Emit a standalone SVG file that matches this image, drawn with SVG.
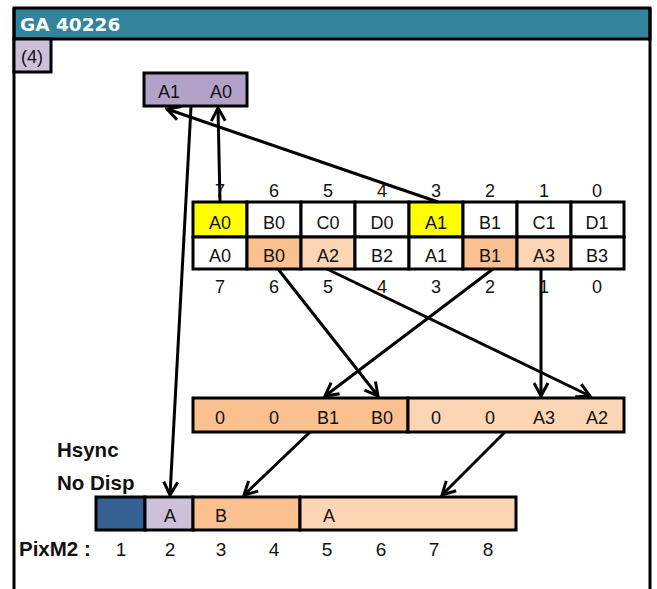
<svg xmlns="http://www.w3.org/2000/svg" width="657" height="589" viewBox="0 0 657 589">
<style>
.t{font-family:"Liberation Sans",Arial,sans-serif;font-size:18px;fill:#111;text-anchor:middle}
.b{font-family:"Liberation Sans",Arial,sans-serif;font-size:20.5px;font-weight:bold;fill:#111}
.cell{stroke:#000;stroke-width:3}
.c{stroke:#000;stroke-width:3;fill:none;marker-end:url(#ah)}
</style>
<defs>
<marker id="ah" markerUnits="userSpaceOnUse" viewBox="0 0 17 17" refX="14.5" refY="8.5" markerWidth="17" markerHeight="17" orient="auto">
<path d="M1.5,1.5 L14.5,8.5 L1.5,15.5" fill="none" stroke="#000" stroke-width="3"/>
</marker>
</defs>
<rect width="657" height="589" fill="#fff"/>
<g id="frame">
<rect x="14" y="8" width="636" height="31" fill="#31849b" stroke="#000" stroke-width="3"/>
<line x1="14" y1="8" x2="14" y2="589" stroke="#000" stroke-width="3"/>
<line x1="650" y1="8" x2="650" y2="589" stroke="#000" stroke-width="3"/>
<text x="20" y="31" style="font-family:'DejaVu Sans',Verdana,sans-serif;font-size:18.5px;font-weight:bold;fill:#fff">GA 40226</text>
</g>
<g id="label4">
<rect x="14" y="39" width="37" height="33" fill="#ccc0da" class="cell"/>
<text x="32" y="63" class="t">(4)</text>
</g>
<g id="regA">
<rect x="144" y="73" width="103" height="33" fill="#b3a2c7" class="cell"/>
<text x="169" y="98" class="t">A1</text>
<text x="221" y="98" class="t">A0</text>
</g>
<g id="topTable">
<g class="t">
<text x="220" y="197">7</text><text x="274" y="197">6</text><text x="328" y="197">5</text><text x="382" y="197">4</text>
<text x="436" y="197">3</text><text x="490" y="197">2</text><text x="544" y="197">1</text><text x="597" y="197">0</text>
</g>
<rect x="193" y="202" width="54" height="35" fill="#ffff00" class="cell"/>
<rect x="247" y="202" width="54" height="35" fill="#fff" class="cell"/>
<rect x="301" y="202" width="54" height="35" fill="#fff" class="cell"/>
<rect x="355" y="202" width="54" height="35" fill="#fff" class="cell"/>
<rect x="409" y="202" width="54" height="35" fill="#ffff00" class="cell"/>
<rect x="463" y="202" width="54" height="35" fill="#fff" class="cell"/>
<rect x="517" y="202" width="54" height="35" fill="#fff" class="cell"/>
<rect x="571" y="202" width="53" height="35" fill="#fff" class="cell"/>
<rect x="193" y="237" width="54" height="32" fill="#fff" class="cell"/>
<rect x="247" y="237" width="54" height="32" fill="#fac090" class="cell"/>
<rect x="301" y="237" width="54" height="32" fill="#fcd5b4" class="cell"/>
<rect x="355" y="237" width="54" height="32" fill="#fff" class="cell"/>
<rect x="409" y="237" width="54" height="32" fill="#fff" class="cell"/>
<rect x="463" y="237" width="54" height="32" fill="#fac090" class="cell"/>
<rect x="517" y="237" width="54" height="32" fill="#fcd5b4" class="cell"/>
<rect x="571" y="237" width="53" height="32" fill="#fff" class="cell"/>
<g class="t">
<text x="220" y="229">A0</text><text x="274" y="229">B0</text><text x="328" y="229">C0</text><text x="382" y="229">D0</text>
<text x="436" y="229">A1</text><text x="490" y="229">B1</text><text x="544" y="229">C1</text><text x="597" y="229">D1</text>
<text x="220" y="262">A0</text><text x="274" y="262">B0</text><text x="328" y="262">A2</text><text x="382" y="262">B2</text>
<text x="436" y="262">A1</text><text x="490" y="262">B1</text><text x="544" y="262">A3</text><text x="597" y="262">B3</text>
<text x="220" y="293">7</text><text x="274" y="293">6</text><text x="328" y="293">5</text><text x="382" y="293">4</text>
<text x="436" y="293">3</text><text x="490" y="293">2</text><text x="544" y="293">1</text><text x="597" y="293">0</text>
</g>
</g>
<g id="midTable">
<rect x="193" y="398" width="215" height="34" fill="#fac090" class="cell"/>
<rect x="408" y="398" width="216" height="34" fill="#fcd5b4" class="cell"/>
<g class="t">
<text x="220" y="424">0</text><text x="274" y="424">0</text><text x="328" y="424">B1</text><text x="382" y="424">B0</text>
<text x="436" y="424">0</text><text x="490" y="424">0</text><text x="544" y="424">A3</text><text x="597" y="424">A2</text>
</g>
</g>
<g id="labels">
<text x="57" y="457" class="b">Hsync</text>
<text x="57" y="490" class="b">No Disp</text>
<text x="19" y="556" class="b">PixM2 :</text>
<g class="t" style="font-size:19px">
<text x="121" y="556">1</text><text x="170" y="556">2</text><text x="221" y="556">3</text><text x="274" y="556">4</text>
<text x="327" y="556">5</text><text x="381" y="556">6</text><text x="434" y="556">7</text><text x="488" y="556">8</text>
</g>
</g>
<g id="pixBar">
<rect x="96" y="497" width="49" height="33" fill="#376092" class="cell"/>
<rect x="145" y="497" width="48" height="33" fill="#ccc0da" class="cell"/>
<rect x="193" y="497" width="107" height="33" fill="#fac090" class="cell"/>
<rect x="300" y="497" width="216" height="33" fill="#fcd5b4" class="cell"/>
<g class="t">
<text x="170" y="522">A</text><text x="221" y="522">B</text><text x="329" y="522">A</text>
</g>
</g>
<g id="connectors">
<line x1="220" y1="202" x2="218" y2="108" class="c"/>
<line x1="438" y1="202" x2="167" y2="109" class="c"/>
<line x1="191" y1="107" x2="170" y2="495" class="c"/>
<line x1="278" y1="269" x2="378" y2="396" class="c"/>
<line x1="327" y1="269" x2="590" y2="396" class="c"/>
<line x1="493" y1="269" x2="325" y2="396" class="c"/>
<line x1="541" y1="269" x2="541" y2="396" class="c"/>
<line x1="310" y1="432" x2="244" y2="495" class="c"/>
<line x1="505" y1="432" x2="442" y2="495" class="c"/>
</g>
</svg>
